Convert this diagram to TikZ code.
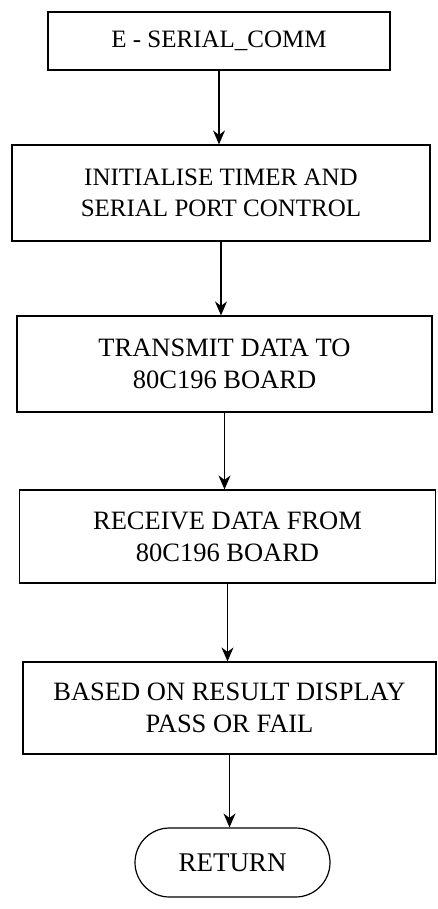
\documentclass[tikz,border=0pt]{standalone}
\usepackage{fontspec}
\setmainfont{Liberation Serif}
\usetikzlibrary{arrows.meta,shapes.misc}
\begin{document}
\begin{tikzpicture}[x=1pt,y=-1pt,
  box/.style={draw,line width=1.2pt,rectangle,inner sep=0pt,align=center,font=\fontsize{26.5}{32}\selectfont},
  term/.style={draw,line width=1.2pt,rounded rectangle,inner sep=0pt,align=center,font=\fontsize{27}{32}\selectfont},
  flow/.style={line width=1.2pt,-{Stealth[length=14pt,width=12pt]}}]
\useasboundingbox (0,0) rectangle (437,909);
\node[box,minimum width=342pt,minimum height=58pt,font=\fontsize{25}{31}\selectfont] (b1) at (219,41) {E - SERIAL\_COMM};
\node[box,minimum width=418pt,minimum height=96pt,font=\fontsize{25}{31}\selectfont] (b2) at (221,193) {INITIALISE TIMER AND\\SERIAL PORT CONTROL};
\node[box,minimum width=415pt,minimum height=96pt] (b3) at (224.5,364) {TRANSMIT DATA TO\\80C196 BOARD};
\node[box,minimum width=416pt,minimum height=93pt] (b4) at (227.5,536.5) {RECEIVE DATA FROM\\80C196 BOARD};
\node[box,minimum width=413pt,minimum height=92pt] (b5) at (229.5,708) {BASED ON RESULT DISPLAY\\PASS OR FAIL};
\node[term,minimum width=195pt,minimum height=69pt] (r) at (232.5,862.5) {RETURN};
\draw[flow] (b1.south) -- (b1.south |- b2.north);
\draw[flow] (b2.south) -- (b2.south |- b3.north);
\draw[flow] (b3.south) -- (b3.south |- b4.north);
\draw[flow] (b4.south) -- (b4.south |- b5.north);
\draw[flow] (b5.south) -- (b5.south |- r.north);
\end{tikzpicture}
\end{document}
